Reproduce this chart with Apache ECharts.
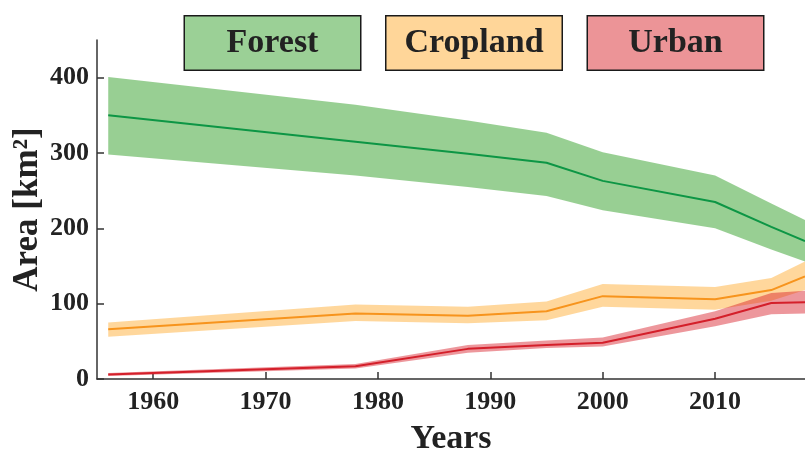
<!DOCTYPE html>
<html>
<head>
<meta charset="utf-8">
<script src="https://cdn.jsdelivr.net/npm/echarts@6/dist/echarts.min.js"></script>
<style>
html, body { margin: 0; padding: 0; background: #fff; }
#main { width: 805px; height: 452px; }
</style>
</head>
<body>
<div id="main"></div>
<script>
// data
var years = [1956, 1978, 1988, 1995, 2000, 2010, 2015, 2018];

var forestMean  = [350, 315, 299, 287, 263, 235, 202, 183];
var forestUpper = [401, 364, 343, 327, 301, 270, 233, 211];
var forestLower = [298, 270, 255, 243, 224, 200, 172, 156];

var cropMean  = [66, 87, 84, 90, 110, 106, 118, 136];
var cropUpper = [75, 99, 96, 103, 126, 122, 134, 156];
var cropLower = [56, 77, 74, 78, 96, 92, 104, 118];

var urbanMean  = [6, 17, 40, 45, 48, 80, 101, 102];
var urbanUpper = [8, 20, 45, 51, 55, 90, 114, 117];
var urbanLower = [4, 14, 35, 41, 43, 70, 86, 87];

var xTicks = [1960, 1970, 1980, 1990, 2000, 2010];
var yTicks = [0, 100, 200, 300, 400];

var font = "'Liberation Serif', 'Times New Roman', serif";

function pairs(ys) {
	var out = [];
	for (var i = 0; i < years.length; i++) {
		out.push([years[i], ys[i]]);
	}
	return out;
}

function triples(lo, up) {
	var out = [];
	for (var i = 0; i < years.length; i++) {
		out.push([years[i], lo[i], up[i]]);
	}
	return out;
}

// shaded band: one polygon, upper edge left->right then lower edge back
function bandSeries(name, lower, upper, fill) {
	return {
		name : name + ' band',
		type : 'custom',
		data : triples(lower, upper),
		encode : { x : 0, y : [1, 2] },
		silent : true,
		clip : true,
		renderItem : function(params, api) {
			if (params.dataIndex !== 0) return null;
			var pts = [];
			for (var i = 0; i < years.length; i++) {
				pts.push(api.coord([years[i], upper[i]]));
			}
			for (var j = years.length - 1; j >= 0; j--) {
				pts.push(api.coord([years[j], lower[j]]));
			}
			return {
				type : 'polygon',
				shape : { points : pts },
				style : { fill : fill, stroke : null }
			};
		}
	};
}

function meanSeries(name, mean, line, fill) {
	return {
		name : name,
		type : 'line',
		data : pairs(mean),
		symbol : 'none',
		z : 3,
		lineStyle : { color : line, width : 2 },
		itemStyle : { color : fill }
	};
}

var series = [
	bandSeries('Forest', forestLower, forestUpper, 'rgba(50,160,40,0.5)'),
	bandSeries('Cropland', cropLower, cropUpper, 'rgba(255,160,20,0.42)'),
	bandSeries('Urban', urbanLower, urbanUpper, 'rgba(215,25,35,0.45)'),
	meanSeries('Forest', forestMean, '#0d9645', '#9bd096'),
	meanSeries('Cropland', cropMean, '#f7941d', '#ffd699'),
	meanSeries('Urban', urbanMean, '#d41f2a', '#ec9497')
];

function legendItem(name, bg) {
	return {
		name : name,
		textStyle : {
			rich : {
				box : {
					backgroundColor : bg,
					borderColor : '#1a1a1a',
					borderWidth : 1.5,
					width : 175,
					height : 53,
					lineHeight : 53,
					align : 'center',
					fontFamily : font,
					fontWeight : 'bold',
					fontSize : 34,
					color : '#222'
				}
			}
		}
	};
}

var myChart = echarts.init(document.getElementById('main'));
var option = {
	animation : false,
	grid : { left : 97, right : 0, top : 40, bottom : 73, containLabel : false, outerBoundsMode : 'none' },
	legend : {
		left : 175,
		top : 10,
		icon : 'none',
		itemWidth : 0,
		itemHeight : 0,
		itemGap : 20,
		selectedMode : false,
		formatter : function(name) { return '{box|' + name + '}'; },
		data : [
			legendItem('Forest', '#9bd096'),
			legendItem('Cropland', '#ffd699'),
			legendItem('Urban', '#ec9497')
		]
	},
	xAxis : {
		type : 'value',
		min : 1955,
		max : 2018,
		name : 'Years',
		nameLocation : 'middle',
		nameGap : 43,
		nameTextStyle : { fontFamily : font, fontWeight : 'bold', fontSize : 34, color : '#222' },
		axisLine : { lineStyle : { color : '#333', width : 1.5 } },
		axisTick : { inside : true, length : 7, customValues : xTicks, lineStyle : { color : '#333', width : 1.5 } },
		axisLabel : {
			customValues : xTicks,
			formatter : function(v) { return String(v); },
			fontFamily : font, fontWeight : 'bold', fontSize : 26, color : '#222', margin : 10
		},
		splitLine : { show : false }
	},
	yAxis : {
		type : 'value',
		min : 0,
		max : 450,
		name : 'Area [km²]',
		nameLocation : 'middle',
		nameRotate : 90,
		nameGap : 52,
		nameMoveOverlap : false,
		nameTextStyle : { fontFamily : font, fontWeight : 'bold', fontSize : 35, color : '#222' },
		axisLine : { show : true, lineStyle : { color : '#333', width : 1.5 } },
		axisTick : { show : true, inside : true, length : 7, customValues : yTicks, lineStyle : { color : '#333', width : 1.5 } },
		axisLabel : { customValues : yTicks, fontFamily : font, fontWeight : 'bold', fontSize : 26, color : '#222', margin : 8 },
		splitLine : { show : false }
	},
	series : series
};
myChart.setOption(option);
</script>
</body>
</html>
